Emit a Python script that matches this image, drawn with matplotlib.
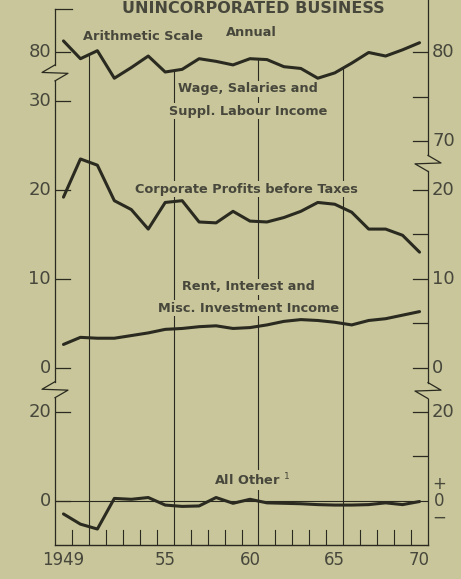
import numpy as np
import matplotlib
matplotlib.use("Agg")
import matplotlib.pyplot as plt

# ---------------- data (percent shares, annual) ----------------
years = list(range(1949, 1971))
wages = [81.3, 79.3, 80.2, 77.1, 78.3, 79.6, 77.8, 78.1, 79.3, 79.0, 78.6,
         79.3, 79.2, 78.4, 78.2, 77.1, 77.7, 78.8, 80.0, 79.6, 80.3, 81.1]
profits = [19.2, 23.5, 22.8, 18.8, 17.8, 15.6, 18.6, 18.8, 16.4, 16.3, 17.6,
           16.5, 16.4, 16.9, 17.6, 18.6, 18.4, 17.5, 15.6, 15.6, 14.9, 13.0]
rent = [2.6, 3.4, 3.3, 3.3, 3.6, 3.9, 4.3, 4.4, 4.6, 4.7, 4.4,
        4.5, 4.8, 5.2, 5.4, 5.3, 5.1, 4.8, 5.3, 5.5, 5.9, 6.3]
other = [-3.0, -5.3, -6.4, 0.5, 0.3, 0.7, -1.0, -1.3, -1.2, 0.7, -0.6,
         0.3, -0.5, -0.6, -0.7, -0.9, -1.0, -1.0, -0.9, -0.5, -0.9, -0.2]

x_labels = ["1949", "55", "60", "65", "70"]
x_label_years = [1949, 1955, 1960, 1965, 1970]
grid_years = [1951, 1956, 1961, 1966]

BG = "#c8c69a"
INK = "#2a2a20"
TXT = "#47473c"

# panel offsets on a common vertical scale
WAGE_OFF = 44.5          # wage value 80 -> 35.5
OTHER_BASE, OTHER_SCALE = -15.0, 0.5

def wage_v(v):
    return np.asarray(v, float) - WAGE_OFF

def other_v(v):
    return OTHER_BASE + OTHER_SCALE * np.asarray(v, float)

W, H = 461, 579
fig = plt.figure(figsize=(W / 100, H / 100), dpi=100, facecolor=BG)
L, R, B, T = 55, 428, 545, 9.0
ax = fig.add_axes([L / W, (H - B) / H, (R - L) / W, (B - T) / H])
ax.set_facecolor(BG)
YMIN, YMAX = -20, 40.4
ax.set_xlim(1949, 1971)
ax.set_ylim(YMIN, YMAX)
ax.axis("off")

px_x = 22 / (R - L)             # years per pixel
px_y = (YMAX - YMIN) / (B - T)  # V units per pixel

xm = np.array(years) + 0.5
kw = dict(color=INK, lw=2.2, solid_joinstyle="round", solid_capstyle="round", zorder=5)
ax.plot(xm, wage_v(wages), **kw)
ax.plot(xm, profits, **kw)
ax.plot(xm, rent, **kw)
ax.plot(xm, other_v(other), **kw)

# gridlines up to the wage curve
for g in grid_years:
    top = np.interp(g, xm, wage_v(wages))
    ax.plot([g, g], [YMIN, top], color=INK, lw=0.8, zorder=1)

# zero line of "All other" panel
ax.plot([1949, 1971], [OTHER_BASE, OTHER_BASE], color=INK, lw=0.8, zorder=1)

# bottom axis and year ticks
ax.plot([1949, 1971], [YMIN, YMIN], color=INK, lw=1.0, clip_on=False)
for y in range(1950, 1971):
    if y in grid_years:
        continue
    ax.plot([y, y], [YMIN, YMIN + 15 * px_y], color=INK, lw=0.8)
for lab, yr in zip(x_labels, x_label_years):
    ax.text(yr + 0.5, YMIN - 15 * px_y, lab, ha="center", va="center",
            fontsize=12, color=TXT, family="DejaVu Sans")

def zig(xa, vb, side):
    s = side
    xs = [xa, xa - s * 13 * px_x, xa + s * 13 * px_x, xa]
    vs = [vb + 0.9, vb + 0.05, vb - 0.05, vb - 0.9]
    ax.plot(xs, vs, color=INK, lw=0.9, clip_on=False)

# left axis with breaks
lb1, lb2 = 33.2, -2.5
for a, b in [(YMIN, lb2 - 0.9), (lb2 + 0.9, lb1 - 0.9), (lb1 + 0.9, YMAX)]:
    ax.plot([1949, 1949], [a, b], color=INK, lw=0.9, clip_on=False)
zig(1949, lb1, 1)
zig(1949, lb2, 1)
ax.plot([1949, 1949 + 17 * px_x], [YMAX, YMAX], color=INK, lw=0.9, clip_on=False)

# right axis with breaks
rb1, rb2 = 23.0, -2.6
for a, b in [(YMIN, rb2 - 0.9), (rb2 + 0.9, rb1 - 0.9), (rb1 + 0.9, YMAX + 2)]:
    ax.plot([1971, 1971], [a, b], color=INK, lw=0.9, clip_on=False)
zig(1971, rb1, -1)
zig(1971, rb2, -1)

tick_len = 15 * px_x
# left ticks and labels
left_ticks = [(wage_v(80), "80"), (30, "30"), (20, "20"), (10, "10"), (0, "0"),
              (other_v(20), "20"), (other_v(0), "0")]
for v, lab in left_ticks:
    ax.plot([1949, 1949 + tick_len], [v, v], color=INK, lw=0.9)
    ax.text(1949 - 4 * px_x, v, lab, ha="right", va="center", fontsize=13,
            color=TXT, family="DejaVu Sans")

# right ticks and labels
right_major = [(wage_v(80), "80"), (wage_v(70), "70"), (20, "20"), (10, "10"),
               (0, "0"), (other_v(20), "20")]
right_minor = [wage_v(75), 15, 5, other_v(10)]
for v, lab in right_major:
    ax.plot([1971 - tick_len, 1971], [v, v], color=INK, lw=0.9)
    ax.text(1971 + 4 * px_x, v, lab, ha="left", va="center", fontsize=13,
            color=TXT, family="DejaVu Sans", clip_on=False)
for v in right_minor:
    ax.plot([1971 - tick_len, 1971], [v, v], color=INK, lw=0.9)
for dv, s in [(1.9, "+"), (0.0, "0"), (-1.9, "\u2212")]:
    ax.text(1971 + 11 * px_x, OTHER_BASE + dv, s, ha="center", va="center",
            fontsize=12, color=TXT, family="DejaVu Sans", clip_on=False)

# annotations
bbox = dict(facecolor=BG, edgecolor="none", pad=1.0)
tkw = dict(ha="center", va="center", fontsize=9.3, fontweight="bold",
           color=TXT, family="DejaVu Sans", bbox=bbox, zorder=3)
ax.text(1954.2, 37.3, "Arithmetic Scale", **tkw)
ax.text(1960.6, 37.7, "Annual", **tkw)
ax.text(1960.4, 31.4, "Wage, Salaries and", **tkw)
ax.text(1960.4, 28.9, "Suppl. Labour Income", **tkw)
ax.text(1960.3, 20.1, "Corporate Profits before Taxes", **tkw)
ax.text(1960.4, 9.1, "Rent, Interest and", **tkw)
ax.text(1960.4, 6.7, "Misc. Investment Income", **tkw)
ax.text(1960.6, -12.7, "All Other $^{1}$", **tkw)

# title at the very top
fig.text(0.55, 1 - 13 / H, "UNINCORPORATED BUSINESS", ha="center", va="baseline",
         fontsize=11.5, fontweight="bold", color=TXT, family="DejaVu Sans")

fig.savefig("out.png", dpi=100, facecolor=BG)
